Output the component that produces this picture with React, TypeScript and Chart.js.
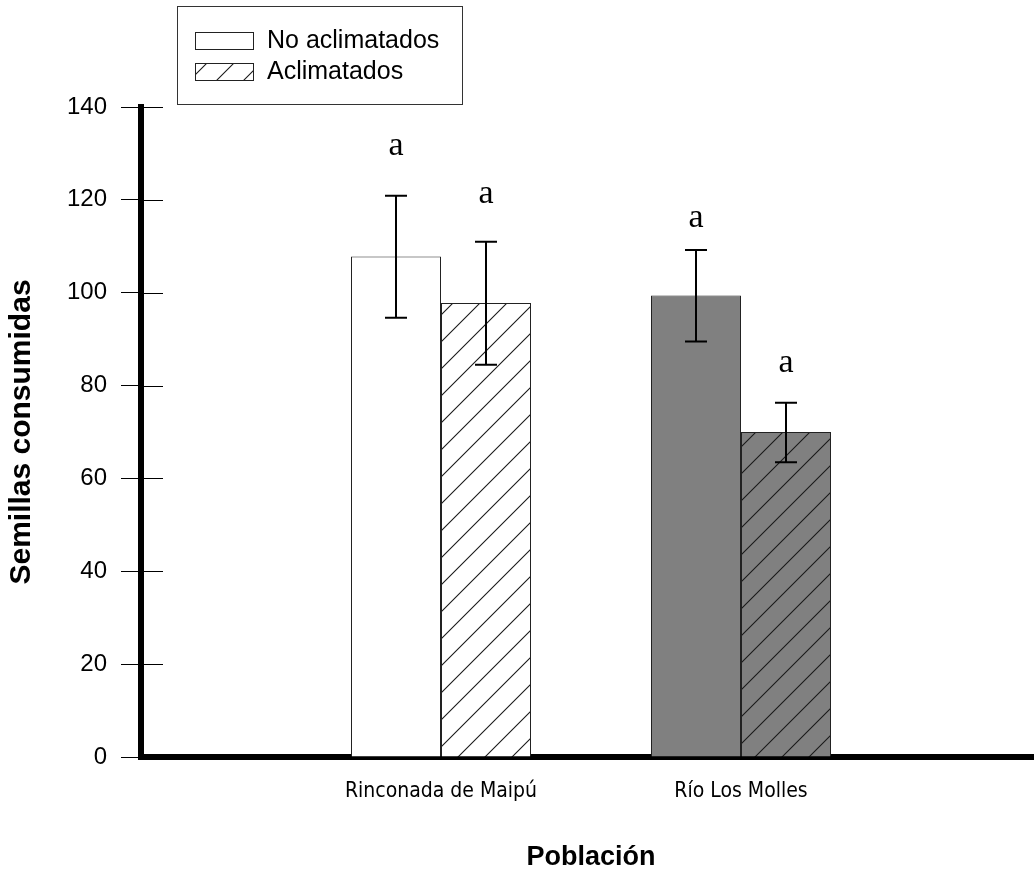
import React, { useEffect, useRef } from "react";
import { Chart, registerables } from "chart.js";

Chart.register(...registerables);

// ---- data ----
const categories = ["Rinconada de Maipú", "Río Los Molles"];
const seriesLabels = ["No aclimatados", "Aclimatados"];
const noAclimatados = [107.8, 99.4];
const aclimatados = [97.8, 70.0];
const noAclimatadosLow = [94.6, 89.5];
const noAclimatadosHigh = [120.9, 109.2];
const aclimatadosLow = [84.5, 63.5];
const aclimatadosHigh = [111.0, 76.3];
const noAclimatadosLetters = ["a", "a"];
const aclimatadosLetters = ["a", "a"];
const noAclimatadosLetterY = [129.7, 114.2];
const aclimatadosLetterY = [119.4, 83.0];
const yMin = 0;
const yMax = 140;
const yStep = 20;
const populationColors = ["#ffffff", "#808080"];
const xTitle = "Población";
const yTitle = "Semillas consumidas";

const SANS = "'Liberation Sans', Arial, sans-serif";
const NARROW = "'Liberation Sans Narrow', 'Arial Narrow', 'DejaVu Sans Condensed', sans-serif";
const SERIF = "'Liberation Serif', 'Times New Roman', serif";

function makeHatch(bg: string): CanvasPattern | string {
  const s = 27;
  const c = document.createElement("canvas");
  c.width = s;
  c.height = s;
  const g = c.getContext("2d");
  if (!g) return bg;
  g.fillStyle = bg;
  g.fillRect(0, 0, s, s);
  g.strokeStyle = "#1a1a1a";
  g.lineWidth = 1.1;
  g.beginPath();
  g.moveTo(-2, s + 2);
  g.lineTo(s + 2, -2);
  g.moveTo(-4, 4);
  g.lineTo(4, -4);
  g.moveTo(s - 4, s + 4);
  g.lineTo(s + 4, s - 4);
  g.stroke();
  const p = g.createPattern(c, "repeat");
  return p || bg;
}

export default function App() {
  const ref = useRef<HTMLCanvasElement | null>(null);

  useEffect(() => {
    if (!ref.current) return;
    const pad = (arr: any[]) => [null, ...arr, null];
    const labels = ["", ...categories, ""];
    const hatches = populationColors.map((c) => makeHatch(c));

    const lows = [noAclimatadosLow, aclimatadosLow];
    const highs = [noAclimatadosHigh, aclimatadosHigh];
    const letterTexts = [noAclimatadosLetters, aclimatadosLetters];
    const letterYs = [noAclimatadosLetterY, aclimatadosLetterY];

    const extras = {
      id: "extras",
      afterDatasetsDraw(chart: any) {
        const ctx = chart.ctx;
        const y = chart.scales.y;
        ctx.save();
        ctx.strokeStyle = "#000";
        ctx.lineWidth = 2;
        for (let d = 0; d < 2; d++) {
          const meta = chart.getDatasetMeta(d);
          categories.forEach((_, i) => {
            const bar = meta.data[i + 1];
            if (!bar) return;
            const x = Math.round(bar.x);
            const yl = y.getPixelForValue(lows[d][i]);
            const yh = y.getPixelForValue(highs[d][i]);
            ctx.beginPath();
            ctx.moveTo(x, yl);
            ctx.lineTo(x, yh);
            ctx.moveTo(x - 11, yl);
            ctx.lineTo(x + 11, yl);
            ctx.moveTo(x - 11, yh);
            ctx.lineTo(x + 11, yh);
            ctx.stroke();
            ctx.fillStyle = "#000";
            ctx.font = `34px ${SERIF}`;
            ctx.textAlign = "center";
            ctx.textBaseline = "alphabetic";
            ctx.fillText(letterTexts[d][i], bar.x, y.getPixelForValue(letterYs[d][i]));
          });
        }
        ctx.restore();
      },
      afterDraw(chart: any) {
        const ctx = chart.ctx;
        const y = chart.scales.y;
        const left = chart.chartArea.left;
        ctx.save();
        ctx.strokeStyle = "#000";
        ctx.lineWidth = 1;
        y.ticks.forEach((t: any) => {
          if (t.value === yMin) return;
          const py = Math.round(y.getPixelForValue(t.value)) + 0.5;
          ctx.beginPath();
          ctx.moveTo(left, py);
          ctx.lineTo(left + 22, py);
          ctx.stroke();
        });
        // legend
        const bx = 177.5, by = 6.5, bw = 285, bh = 98;
        ctx.fillStyle = "#fff";
        ctx.fillRect(bx, by, bw, bh);
        ctx.strokeStyle = "#333";
        ctx.lineWidth = 1;
        ctx.strokeRect(bx, by, bw, bh);
        const fills = [populationColors[0], hatches[0]];
        const rows = [32, 63];
        chart.data.datasets.forEach((ds: any, i: number) => {
          const sy = rows[i];
          ctx.fillStyle = fills[i] as any;
          ctx.fillRect(195.5, sy + 0.5, 58, 17);
          ctx.strokeStyle = "#222";
          ctx.strokeRect(195.5, sy + 0.5, 58, 17);
          ctx.fillStyle = "#000";
          ctx.font = `25px ${SANS}`;
          ctx.textAlign = "left";
          ctx.textBaseline = "middle";
          ctx.fillText(ds.label, 267, sy + 9);
        });
        ctx.restore();
      },
    };

    const chart = new Chart(ref.current, {
      type: "bar",
      data: {
        labels,
        datasets: [
          {
            label: seriesLabels[0],
            data: pad(noAclimatados),
            backgroundColor: pad(populationColors) as any,
            borderColor: "#222",
            borderWidth: 1,
          },
          {
            label: seriesLabels[1],
            data: pad(aclimatados),
            backgroundColor: pad(hatches) as any,
            borderColor: "#222",
            borderWidth: 1,
          },
        ],
      },
      options: {
        animation: false,
        responsive: false,
        devicePixelRatio: 1,
        layout: { padding: { top: 107, left: 0, right: 0, bottom: 0 } },
        datasets: { bar: { categoryPercentage: 0.6, barPercentage: 1 } },
        plugins: { legend: { display: false }, tooltip: { enabled: false } },
        scales: {
          x: {
            offset: false,
            grid: { display: false },
            border: { display: true, width: 6, color: "#000" },
            ticks: {
              color: "#000",
              font: { family: NARROW, size: 21 },
              padding: 14,
              maxRotation: 0,
              autoSkip: false,
            },
            title: {
              display: true,
              text: xTitle,
              color: "#000",
              font: { family: SANS, size: 27, weight: "bold" },
              padding: { top: 0, bottom: 0 },
            },
            afterFit: (s: any) => {
              s.height = 117;
              s.paddingLeft = 0;
              s.paddingRight = 0;
            },
          },
          y: {
            min: yMin,
            max: yMax,
            grid: {
              display: true,
              drawOnChartArea: false,
              drawTicks: true,
              tickLength: 20,
              color: "#000",
              lineWidth: 1,
            },
            border: { display: true, width: 6, color: "#000" },
            ticks: {
              stepSize: yStep,
              color: "#000",
              font: { family: SANS, size: 24 },
              padding: 14,
            },
            title: {
              display: true,
              text: yTitle,
              color: "#000",
              font: { family: SANS, size: 30, weight: "bold" },
              padding: { top: 4, bottom: 0 },
            },
            afterFit: (s: any) => {
              s.width = 141;
            },
          },
        },
      },
      plugins: [extras],
    });
    return () => chart.destroy();
  }, []);

  return (
    <div
      style={{
        position: "absolute",
        left: 0,
        top: 0,
        width: 1034,
        height: 874,
        overflow: "hidden",
        background: "#fff",
      }}
    >
      <canvas ref={ref} width={1041} height={874} style={{ display: "block" }} />
    </div>
  );
}
